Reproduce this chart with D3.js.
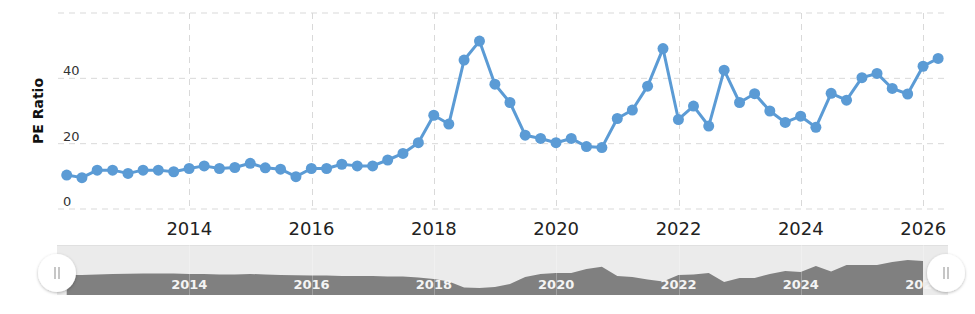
<!DOCTYPE html>
<html>
<head>
<meta charset="utf-8">
<script src="https://cdn.jsdelivr.net/npm/d3@7"></script>
<style>
  html, body { margin: 0; padding: 0; background: #fff; }
  svg { display: block; font-family: "DejaVu Sans", Verdana, sans-serif; }
</style>
</head>
<body>
<svg id="chart" width="975" height="314"></svg>
<script>
// ---- data ----
const dates = [
  "2011-12-31",
  "2012-03-31","2012-06-30","2012-09-30","2012-12-31",
  "2013-03-31","2013-06-30","2013-09-30","2013-12-31",
  "2014-03-31","2014-06-30","2014-09-30","2014-12-31",
  "2015-03-31","2015-06-30","2015-09-30","2015-12-31",
  "2016-03-31","2016-06-30","2016-09-30","2016-12-31",
  "2017-03-31","2017-06-30","2017-09-30","2017-12-31",
  "2018-03-31","2018-06-30","2018-09-30","2018-12-31",
  "2019-03-31","2019-06-30","2019-09-30","2019-12-31",
  "2020-03-31","2020-06-30","2020-09-30","2020-12-31",
  "2021-03-31","2021-06-30","2021-09-30","2021-12-31",
  "2022-03-31","2022-06-30","2022-09-30","2022-12-31",
  "2023-03-31","2023-06-30","2023-09-30","2023-12-31",
  "2024-03-31","2024-06-30","2024-09-30","2024-12-31",
  "2025-03-31","2025-06-30","2025-09-30","2025-12-31",
  "2026-03-31"
];
const peRatio = [
  10.4, 9.6, 11.9, 11.9, 10.9, 11.9, 11.9, 11.4, 12.4, 13.2,
  12.4, 12.7, 14.0, 12.6, 12.2, 9.9, 12.4, 12.4, 13.7, 13.2,
  13.2, 15.0, 17.0, 20.3, 28.7, 26.0, 45.6, 51.4, 38.2, 32.6,
  22.6, 21.6, 20.3, 21.6, 19.1, 18.8, 27.7, 30.3, 37.6, 49.1,
  27.4, 31.5, 25.4, 42.5, 32.6, 35.3, 30.0, 26.5, 28.4, 25.0,
  35.4, 33.3, 40.2, 41.5, 36.9, 35.2, 43.7, 46.1
];
// navigator series (ends one quarter earlier)
const navigatorValues = [
  20, 20, 20.5, 21, 21.3, 21.5, 21.5, 21.5, 21, 21,
  20.5, 20.5, 21, 20.5, 20, 19.7, 19.5, 19.5, 19, 19,
  19, 18.5, 18.5, 17.5, 16, 13.5, 7.5, 7, 8, 11,
  18, 21, 22, 22, 26, 28.3, 19, 18, 15.5, 13.5,
  20, 20.5, 22, 13, 17, 17, 21, 24, 23, 29,
  23.5, 30, 30, 30, 33, 35, 34
];
const yTicks = [0, 20, 40, 60];
const yTickLabels = ["0", "20", "40", ""];
const xTickYears = [2014, 2016, 2018, 2020, 2022, 2024, 2026];
const yTitle = "PE Ratio";

// ---- layout ----
const W = 975, H = 314;
const plot = { left: 58, right: 946, top: 13, bottom: 209 };
const nav = { left: 57, right: 948, top: 245, bottom: 295 };
const lineColor = "#5b9bd5";

const parse = d3.timeParse("%Y-%m-%d");
const series = dates.map((d, i) => ({ date: parse(d), value: peRatio[i] }));
const navSeries = navigatorValues.map((v, i) => ({ date: parse(dates[i]), value: v }));

const x = d3.scaleTime()
  .domain([new Date(2011, 10, 9), new Date(2026, 4, 17)])
  .range([plot.left, plot.right]);
const y = d3.scaleLinear().domain([0, 60]).range([plot.bottom, plot.top]);
const xn = x.copy().range([plot.left, plot.right]);
const yn = d3.scaleLinear().domain([0, 50]).range([nav.bottom, nav.top]);

const svg = d3.select("#chart");
svg.append("rect").attr("width", W).attr("height", H).attr("fill", "#fff");

const defs = svg.append("defs");
const f = defs.append("filter").attr("id", "shadow").attr("x", "-50%").attr("y", "-50%").attr("width", "200%").attr("height", "200%");
f.append("feDropShadow").attr("dx", 0).attr("dy", 1).attr("stdDeviation", 1.8).attr("flood-color", "#000").attr("flood-opacity", 0.28);

// grid
const grid = svg.append("g");
grid.selectAll("line.h").data(yTicks).join("line")
  .attr("x1", plot.left).attr("x2", plot.right)
  .attr("y1", d => y(d)).attr("y2", d => y(d))
  .attr("stroke", "#d9d9d9").attr("stroke-width", 1).attr("stroke-dasharray", "6,5");
const yearDates = xTickYears.map(yr => new Date(yr, 0, 1));
grid.selectAll("line.v").data(yearDates).join("line")
  .attr("x1", d => Math.round(x(d)) + 0.5).attr("x2", d => Math.round(x(d)) + 0.5)
  .attr("y1", plot.top).attr("y2", plot.bottom)
  .attr("stroke", "#d9d9d9").attr("stroke-width", 1).attr("stroke-dasharray", "6,5");

// y labels
svg.append("g").selectAll("text").data(yTicks).join("text")
  .attr("x", plot.left + 5).attr("y", d => y(d) - 3)
  .attr("font-size", 13).attr("fill", "#333")
  .text((d, i) => yTickLabels[i]);

// y title
svg.append("text")
  .attr("transform", `translate(43, 111) rotate(-90)`)
  .attr("text-anchor", "middle").attr("font-size", 14).attr("font-weight", "bold").attr("fill", "#111")
  .text(yTitle);

// x labels
svg.append("g").selectAll("text").data(yearDates).join("text")
  .attr("x", d => x(d)).attr("y", 235)
  .attr("text-anchor", "middle").attr("font-size", 18).attr("fill", "#222")
  .text(d => d3.timeFormat("%Y")(d));

// line + dots
const line = d3.line().x(d => x(d.date)).y(d => y(d.value));
svg.append("path").datum(series)
  .attr("d", line).attr("fill", "none").attr("stroke", lineColor)
  .attr("stroke-width", 3).attr("stroke-linejoin", "round");
svg.append("g").selectAll("circle").data(series).join("circle")
  .attr("cx", d => x(d.date)).attr("cy", d => y(d.value)).attr("r", 5.5)
  .attr("fill", lineColor);

// navigator
svg.append("rect").attr("x", nav.left).attr("y", nav.top)
  .attr("width", nav.right - nav.left).attr("height", nav.bottom - nav.top)
  .attr("fill", "#ebebeb");
svg.append("line").attr("x1", nav.left).attr("x2", nav.right).attr("y1", nav.top + 0.5).attr("y2", nav.top + 0.5)
  .attr("stroke", "#e0e0e0");
const area = d3.area().x(d => xn(d.date)).y0(nav.bottom).y1(d => yn(d.value));
svg.append("path").datum(navSeries).attr("d", area).attr("fill", "#808080");
svg.append("g").selectAll("line").data(yearDates).join("line")
  .attr("x1", d => Math.round(xn(d)) + 0.5).attr("x2", d => Math.round(xn(d)) + 0.5)
  .attr("y1", nav.top).attr("y2", nav.bottom)
  .attr("stroke", "#fff").attr("stroke-opacity", 0.25);
svg.append("g").selectAll("text").data(yearDates).join("text")
  .attr("x", d => xn(d)).attr("y", 289)
  .attr("text-anchor", "middle").attr("font-size", 13).attr("font-weight", "bold").attr("fill", "#f4f4f4")
  .text(d => d3.timeFormat("%Y")(d));

// handles
const handles = svg.append("g").selectAll("g").data([57, 946]).join("g")
  .attr("transform", d => `translate(${d}, 273)`);
handles.append("circle").attr("r", 19).attr("fill", "#fff").attr("filter", "url(#shadow)");
handles.append("line").attr("x1", -2).attr("x2", -2).attr("y1", -6).attr("y2", 6).attr("stroke", "#a0a0a0").attr("stroke-width", 1.2);
handles.append("line").attr("x1", 2).attr("x2", 2).attr("y1", -6).attr("y2", 6).attr("stroke", "#a0a0a0").attr("stroke-width", 1.2);
</script>
</body>
</html>
